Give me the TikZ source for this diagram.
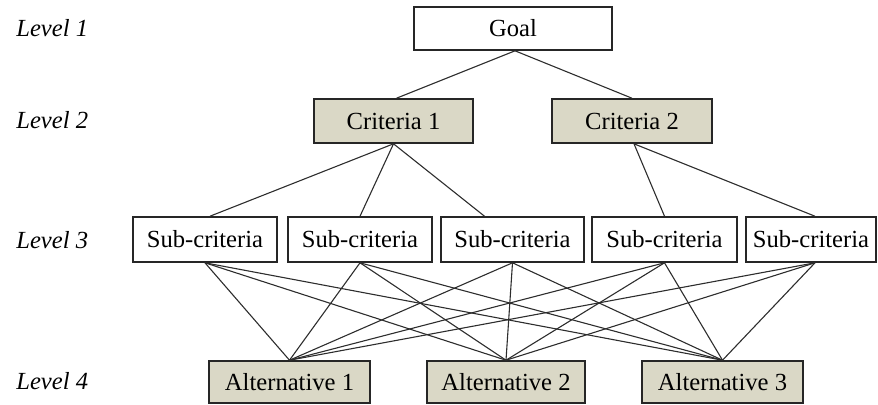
\documentclass[tikz,border=0pt]{standalone}
\usepackage{fontspec}
\setmainfont{Liberation Serif}
\definecolor{critfill}{RGB}{218,216,198}
\definecolor{linegray}{RGB}{45,45,45}
\begin{document}
\begin{tikzpicture}[x=0.5pt,y=-0.5pt,
  box/.style={draw=black!85,line width=0.8pt,inner sep=0pt,font=\fontsize{12.3}{14}\selectfont},
  plainbox/.style={box,fill=white},
  shadebox/.style={box,fill=critfill},
  lvl/.style={anchor=west,inner sep=0pt,font=\fontsize{12.3}{14}\selectfont\itshape},
  link/.style={draw=linegray,line width=0.55pt}]
\useasboundingbox (0,0) rectangle (878,404);
% level labels
\node[lvl] (l1) at (16,28) {Level 1};
\node[lvl] (l2) at (16,120) {Level 2};
\node[lvl] (l3) at (16,240) {Level 3};
\node[lvl] (l4) at (16,381) {Level 4};
% boxes
\node[plainbox,minimum width=99pt,minimum height=21.5pt] (goal) at (513,28.5) {Goal};
\node[shadebox,minimum width=79.5pt,minimum height=22pt] (c1) at (393.5,121) {Criteria 1};
\node[shadebox,minimum width=80pt,minimum height=22pt] (c2) at (632,121) {Criteria 2};
\node[plainbox,minimum width=72pt,minimum height=22.5pt] (s1) at (205,239.5) {Sub-criteria};
\node[plainbox,minimum width=72pt,minimum height=22.5pt] (s2) at (360,239.5) {Sub-criteria};
\node[plainbox,minimum width=71.5pt,minimum height=22.5pt] (s3) at (512.5,239.5) {Sub-criteria};
\node[plainbox,minimum width=72.5pt,minimum height=22.5pt] (s4) at (664.5,239.5) {Sub-criteria};
\node[plainbox,minimum width=65pt,minimum height=22.5pt] (s5) at (811,239.5) {Sub-criteria};
\node[shadebox,minimum width=80.5pt,minimum height=21pt] (a1) at (289.5,382) {Alternative 1};
\node[shadebox,minimum width=79pt,minimum height=21pt] (a2) at (506,382) {Alternative 2};
\node[shadebox,minimum width=80.5pt,minimum height=21pt] (a3) at (722.5,382) {Alternative 3};
% goal to criteria
\draw[link] ([xshift=1pt]goal.south) -- ([xshift=1.5pt]c1.north);
\draw[link] ([xshift=1pt]goal.south) -- (c2.north);
% criteria to sub-criteria
\draw[link] (c1.south) -- ([xshift=2.5pt]s1.north);
\draw[link] (c1.south) -- (s2.north);
\draw[link] (c1.south) -- ([xshift=-14pt]s3.north);
\draw[link] ([xshift=1pt]c2.south) -- (s4.north);
\draw[link] ([xshift=1pt]c2.south) -- ([xshift=2pt]s5.north);
% sub-criteria to alternatives
\foreach \s in {s1,s2,s3,s4} {
  \foreach \a in {a1,a2,a3} {
    \draw[link] (\s.south) -- (\a.north);
  }
}
\foreach \a in {a1,a2,a3} {
  \draw[link] ([xshift=2pt]s5.south) -- (\a.north);
}
\end{tikzpicture}
\end{document}
